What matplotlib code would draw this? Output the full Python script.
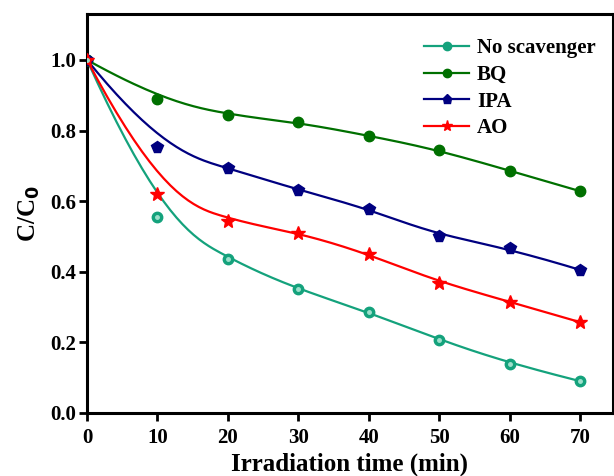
import numpy as np
import matplotlib
matplotlib.use("Agg")
import matplotlib.pyplot as plt

# irradiation time (min)
time = [0, 10, 20, 30, 40, 50, 60, 70]

# C/C0 for each scavenger run
no_scavenger = [1.0, 0.556, 0.435, 0.350, 0.285, 0.207, 0.140, 0.090]
bq = [1.0, 0.889, 0.843, 0.823, 0.785, 0.745, 0.686, 0.628]
ipa = [1.0, 0.753, 0.693, 0.632, 0.578, 0.500, 0.466, 0.405]
ao = [1.0, 0.620, 0.545, 0.511, 0.450, 0.369, 0.315, 0.257]

series_names = ["No scavenger", "BQ", "IPA", "AO"]
xticks = [0, 10, 20, 30, 40, 50, 60, 70]
yticks = [0.0, 0.2, 0.4, 0.6, 0.8, 1.0]


def bspline(x, y, n=200):
    # clamped cubic B-spline using the points as control points (Origin style line)
    P = np.column_stack([x, y]).astype(float)
    k = 3
    m = len(P)
    knots = np.concatenate([np.zeros(k), np.arange(m - k + 1), np.full(k, m - k)]).astype(float)
    ts = np.linspace(0, m - k, n)
    out = []
    for t in ts:
        # de Boor
        i = np.searchsorted(knots, t, side="right") - 1
        i = min(i, m - 1)
        d = [P[j + i - k].copy() for j in range(k + 1)]
        for r in range(1, k + 1):
            for j in range(k, r - 1, -1):
                a = knots[j + i - k]
                b = knots[j + 1 + i - r]
                alpha = 0.0 if b == a else (t - a) / (b - a)
                d[j] = (1 - alpha) * d[j - 1] + alpha * d[j]
        out.append(d[k])
    out = np.array(out)
    return out[:, 0], out[:, 1]


plt.rcParams['font.family'] = ['Liberation Serif', 'DejaVu Serif']
plt.rcParams['font.weight'] = 'bold'

fig = plt.figure(figsize=(6.14, 4.76), dpi=100)
ax = fig.add_axes([0.1417, 0.1324, 0.8563, 0.8382])

styles = [
    (no_scavenger, "#14a27c", "o", 7.5),
    (bq, "#007000", "o", 7.5),
    (ipa, "#000080", "p", 8.5),
    (ao, "#ff0000", "*", 10),
]

for (vals, col, mk, ms), name in zip(styles, series_names):
    sx, sy = bspline(time, vals)
    ax.plot(sx, sy, color=col, lw=1.6, zorder=2)
    ax.plot(time, vals, ls="none", marker=mk, ms=ms, color=col, zorder=3)
    if name == "No scavenger":
        ax.plot(time, vals, ls="none", marker="o", ms=2.5, color="#9fe0cc", zorder=4)
    # legend proxy
    ax.plot([], [], color=col, lw=1.6, marker=mk, ms=ms, label=name)

ax.set_xlim(0, 74.6)
ax.set_ylim(0, 1.13)
ax.set_xticks(xticks)
ax.set_yticks(yticks)
ax.set_yticklabels(["%.1f" % v for v in yticks])

for s in ax.spines.values():
    s.set_linewidth(2.2)
ax.tick_params(direction="out", length=6, width=2, labelsize=15)
ax.tick_params(axis="x", pad=5)
ax.tick_params(axis="y", pad=2)

ax.set_xlabel("Irradiation time (min)", fontsize=18, fontweight="bold", labelpad=3)
ax.set_ylabel("C/C$_\\mathbf{0}$", fontsize=18, fontweight="bold", labelpad=6)

leg = ax.legend(loc="upper right", bbox_to_anchor=(0.983, 0.96), frameon=False, fontsize=15,
                handlelength=2.2, labelspacing=0.32, borderaxespad=0.0, handletextpad=0.35,
                markerscale=0.8)
for t in leg.get_texts():
    t.set_fontweight("bold")

fig.savefig("out.png", dpi=100)
